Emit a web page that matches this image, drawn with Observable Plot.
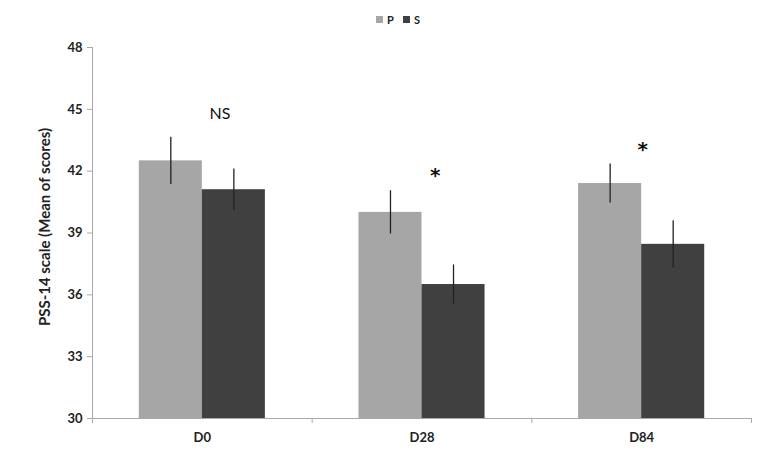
<!DOCTYPE html>
<html>
<head>
<meta charset="utf-8">
<script src="https://cdn.jsdelivr.net/npm/d3@7"></script>
<script src="https://cdn.jsdelivr.net/npm/@observablehq/plot@0.6"></script>
<style>
  body { margin: 0; background: #fff; font-family: Lato, "Open Sans", sans-serif; }
  #legend { height: 30px; position: relative; }
  .lg { position: absolute; top: 13px; font-size: 11px; font-weight: bold; color: #222; display: flex; align-items: center; }
  .sw { width: 7px; height: 7px; display: inline-block; margin-right: 4px; }
</style>
</head>
<body>
<div id="legend"></div>
<div id="chart"></div>
<script>
// ---- data ----
const categories = ["D0", "D28", "D84"];
const seriesNames = ["P", "S"];
const pMean = [42.5, 40.0, 41.4];
const sMean = [41.1, 36.5, 38.45];
const pErr = [1.15, 1.05, 0.95];
const sErr = [1.0, 0.95, 1.15];
const annoText = ["NS", "*", "*"];
const annoY = [44.8, 41.9, 43.2];
const annoX = [0.58, 1.56, 2.505]; // position along category axis units
const yTicks = [30, 33, 36, 39, 42, 45, 48];
const yLabel = "PSS-14 scale (Mean of scores)";

const colors = {P: "#a6a6a6", S: "#404040"};
const barFrac = 0.287;

const rows = [];
categories.forEach((c, i) => {
  rows.push({cat: c, i, series: "P", mean: pMean[i], err: pErr[i]});
  rows.push({cat: c, i, series: "S", mean: sMean[i], err: sErr[i]});
});
const annos = annoText.map((t, i) => ({t, x: annoX[i], y: annoY[i]}));

// legend (HTML above svg)
const legend = document.getElementById("legend");
const lgPos = {P: 376, S: 403};
seriesNames.forEach(s => {
  const el = document.createElement("div");
  el.className = "lg";
  el.style.left = lgPos[s] + "px";
  el.innerHTML = `<span class="sw" style="background:${colors[s]}"></span>${s}`;
  legend.appendChild(el);
});

const xLeft = r => r.series === "P" ? r.i + 0.5 - barFrac : r.i + 0.5;
const xRight = r => r.series === "P" ? r.i + 0.5 : r.i + 0.5 + barFrac;
const xMid = r => r.series === "P" ? r.i + 0.5 - barFrac / 2 : r.i + 0.5 + barFrac / 2;

const chart = Plot.plot({
  width: 777,
  height: 425,
  marginLeft: 92,
  marginRight: 26,
  marginTop: 17,
  marginBottom: 37,
  style: {fontFamily: "Lato, 'Open Sans', sans-serif", color: "#222", background: "#fff"},
  x: {type: "linear", domain: [0, 3]},
  y: {domain: [30, 48]},
  marks: [
    Plot.rectY(rows, {x1: xLeft, x2: xRight, y1: 30, y2: "mean", fill: r => colors[r.series]}),
    Plot.ruleX(rows, {x: xMid, y1: r => r.mean - r.err, y2: r => r.mean + r.err, stroke: "#222", strokeWidth: 1.3}),
    Plot.ruleX([0], {stroke: "#a8a8a8"}),
    Plot.ruleY([30], {stroke: "#a8a8a8"}),
    Plot.axisY({ticks: yTicks, tickSize: 5, tickPadding: 5, stroke: "#a8a8a8", fontSize: 13, fontWeight: "bold", label: null}),
    Plot.text([yLabel], {frameAnchor: "left", textAnchor: "middle", rotate: -90, dx: -47, dy: -6,
      fontSize: 15, fontWeight: "bold", fill: "#222"}),
    Plot.axisX({ticks: [0, 1, 2, 3], tickSize: 5, tickFormat: () => "", stroke: "#a8a8a8", label: null}),
    Plot.axisX({ticks: [0.5, 1.5, 2.5], tickSize: 0, tickPadding: 14, tickFormat: d => categories[Math.floor(d)],
      fontSize: 13, fontWeight: "bold", label: null}),
    Plot.text(annos.filter(d => d.t !== "*"), {x: "x", y: "y", text: "t", fontSize: 16, fill: "#111"}),
    Plot.text(annos.filter(d => d.t === "*"), {x: "x", y: "y", text: "t", fontSize: 20, fontWeight: "bold",
      fontFamily: "DejaVu Sans", lineAnchor: "top", dy: -5, fill: "#111"})
  ]
});
document.getElementById("chart").appendChild(chart);
</script>
</body>
</html>
